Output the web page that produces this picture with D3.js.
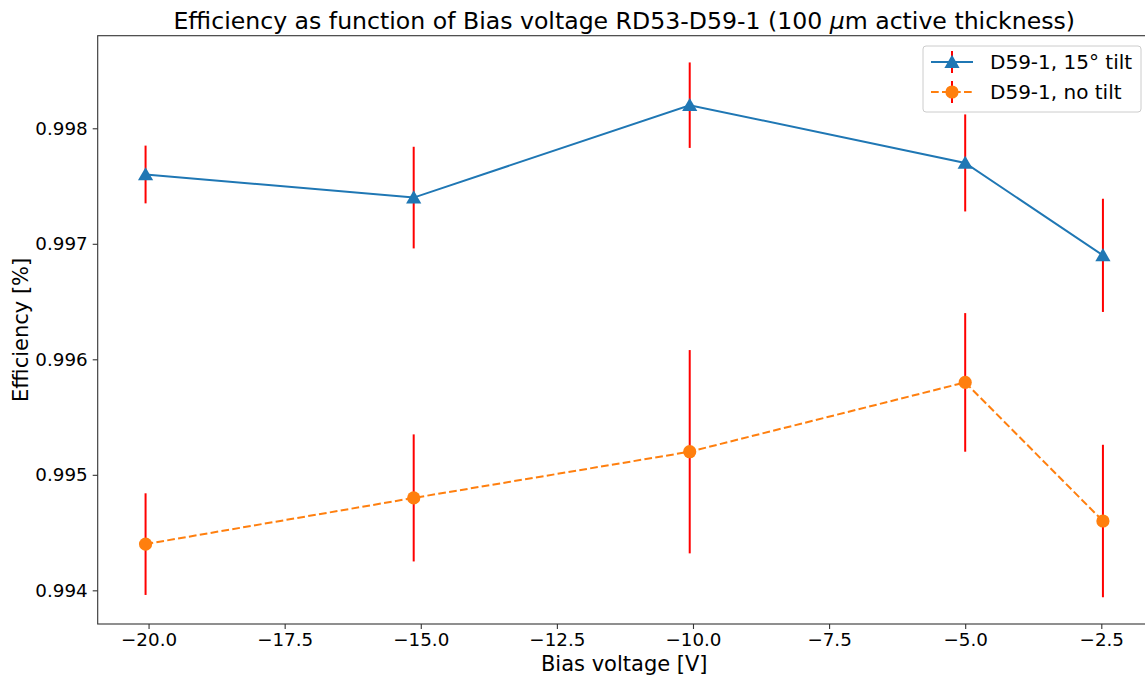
<!DOCTYPE html>
<html><head><meta charset="utf-8">
<script src="https://cdn.jsdelivr.net/npm/d3@7"></script>
<style>
body{margin:0;background:#fff;}
text{font-family:"DejaVu Sans",sans-serif;fill:#000;}
</style></head>
<body>
<svg id="c" width="1145" height="677"></svg>
<script>
const biasVoltage = [-20.055, -15.13, -10.06, -5.0, -2.47];
const effTilt = [0.9976, 0.9974, 0.9982, 0.9977, 0.9969];
const errTilt = [0.00025, 0.00044, 0.00037, 0.00042, 0.00049];
const effNoTilt = [0.9944, 0.9948, 0.9952, 0.9958, 0.9946];
const errNoTilt = [0.00044, 0.00055, 0.00088, 0.0006, 0.00066];
const xTicks = [-20, -17.5, -15, -12.5, -10, -7.5, -5, -2.5];
const yTicks = [0.994, 0.995, 0.996, 0.997, 0.998];
const seriesNames = ["D59-1, 15° tilt", "D59-1, no tilt"];

const svg = d3.select("#c");
const m = {left: 97.7, top: 35.7, right: 1150.8, bottom: 624};

const xmin = d3.min(biasVoltage), xmax = d3.max(biasVoltage);
const xpad = (xmax - xmin) * 0.05;
const x = d3.scaleLinear().domain([xmin - xpad, xmax + xpad]).range([m.left, m.right]);
const allLo = effTilt.map((v,i)=>v-errTilt[i]).concat(effNoTilt.map((v,i)=>v-errNoTilt[i]));
const allHi = effTilt.map((v,i)=>v+errTilt[i]).concat(effNoTilt.map((v,i)=>v+errNoTilt[i]));
const ymin = d3.min(allLo), ymax = d3.max(allHi), ypad = (ymax - ymin) * 0.05;
const y = d3.scaleLinear().domain([ymin - ypad, ymax + ypad]).range([m.bottom, m.top]);

const fmtX = v => d3.format(".1f")(v).replace("-", "\u2212");
const xAxis = svg.append("g").attr("transform", `translate(0,${m.bottom})`)
  .call(d3.axisBottom(x).tickValues(xTicks).tickFormat(fmtX).tickSize(5).tickPadding(4));
const yAxis = svg.append("g").attr("transform", `translate(${m.left},0)`)
  .call(d3.axisLeft(y).tickValues(yTicks).tickFormat(d3.format(".3f")).tickSize(5).tickPadding(5));
[xAxis, yAxis].forEach(a => {
  a.selectAll("text").style("font-size", "18.3px").style("font-family", "DejaVu Sans").attr("fill", "#000");
  a.selectAll("line").attr("stroke", "#333").attr("stroke-width", 1.1);
  a.select(".domain").remove();
});
// spines
svg.append("rect").attr("x", m.left).attr("y", m.top).attr("width", m.right - m.left).attr("height", m.bottom - m.top)
  .attr("fill", "none").attr("stroke", "#333").attr("stroke-width", 1.1);

const plot = svg.append("g");
const series = [
  {vals: effTilt, errs: errTilt, color: "#1f77b4", dash: null, marker: "tri"},
  {vals: effNoTilt, errs: errNoTilt, color: "#ff7f0e", dash: "7.7,3.3", marker: "circ"}
];
const triangle = d3.symbol().type(d3.symbolTriangle).size(100);
series.forEach(s => {
  plot.append("g").selectAll("line").data(s.vals).join("line")
    .attr("x1", (d,i)=>x(biasVoltage[i])).attr("x2", (d,i)=>x(biasVoltage[i]))
    .attr("y1", (d,i)=>y(d - s.errs[i])).attr("y2", (d,i)=>y(d + s.errs[i]))
    .attr("stroke", "red").attr("stroke-width", 2);
  const line = d3.line().x((d,i)=>x(biasVoltage[i])).y(d=>y(d));
  plot.append("path").datum(s.vals).attr("d", line).attr("fill", "none")
    .attr("stroke", s.color).attr("stroke-width", 2).attr("stroke-dasharray", s.dash);
  const mk = plot.append("g").selectAll("g").data(s.vals).join("g")
    .attr("transform", (d,i)=>`translate(${x(biasVoltage[i])},${y(d)})`);
  if (s.marker === "tri") mk.append("path").attr("d", triangle).attr("transform", "translate(0,1.5)").attr("fill", s.color);
  else mk.append("circle").attr("r", 6.6).attr("fill", s.color);
});

// legend
const lg = svg.append("g");
lg.append("rect").attr("x", 923).attr("y", 46).attr("width", 218).attr("height", 66).attr("rx", 3)
  .attr("fill", "#fff").attr("fill-opacity", 0.8).attr("stroke", "#ccc").attr("stroke-width", 1);
series.forEach((s, k) => {
  const cy = 62 + k * 30;
  lg.append("line").attr("x1", 952).attr("x2", 952).attr("y1", cy - 11).attr("y2", cy + 11).attr("stroke", "red").attr("stroke-width", 2);
  lg.append("line").attr("x1", 931).attr("x2", 973).attr("y1", cy).attr("y2", cy)
    .attr("stroke", s.color).attr("stroke-width", 2).attr("stroke-dasharray", s.dash);
  if (s.marker === "tri") lg.append("path").attr("d", triangle).attr("transform", `translate(952,${cy + 1.5})`).attr("fill", s.color);
  else lg.append("circle").attr("cx", 952).attr("cy", cy).attr("r", 6.6).attr("fill", s.color);
  lg.append("text").attr("x", 990).attr("y", cy).attr("dy", "0.35em").style("font-size", "20px").text(seriesNames[k]);
});

// title & labels
const t = svg.append("text").attr("x", (m.left + m.right) / 2).attr("y", 29).attr("text-anchor", "middle").style("font-size", "23.6px");
t.append("tspan").text("Efficiency as function of Bias voltage RD53-D59-1 (100 ");
t.append("tspan").attr("font-style", "italic").text("\u03bc");
t.append("tspan").text("m active thickness)");
svg.append("text").attr("x", (m.left + m.right) / 2).attr("y", 671).attr("text-anchor", "middle").style("font-size", "21px").text("Bias voltage [V]");
svg.append("text").attr("transform", `translate(28,${(m.top + m.bottom) / 2}) rotate(-90)`).attr("text-anchor", "middle").style("font-size", "21px").text("Efficiency [%]");
</script>
</body></html>
